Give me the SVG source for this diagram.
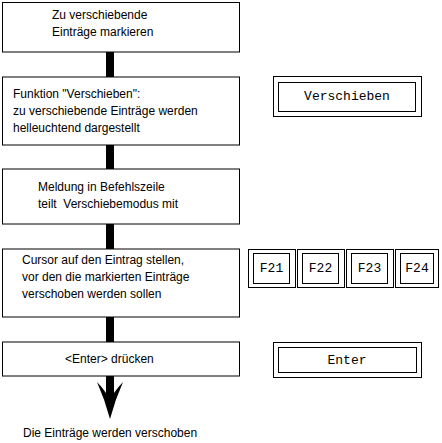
<svg xmlns="http://www.w3.org/2000/svg" width="442" height="443" viewBox="0 0 442 443">
<style>
.box{fill:#fff;stroke:#000;stroke-width:1}
.t{font-family:"Liberation Sans",Arial,sans-serif;font-size:12px;fill:#000}
.m{font-family:"Liberation Mono","Courier New",monospace;font-size:13px;fill:#000;text-anchor:middle}
.bar{fill:#000}
</style>
<rect width="442" height="443" fill="#fff"/>
<g id="connectors">
<rect class="bar" x="106" y="52" width="8" height="25"/>
<rect class="bar" x="106" y="145" width="8" height="24"/>
<rect class="bar" x="106" y="224" width="8" height="25"/>
<rect class="bar" x="106" y="317" width="8" height="25"/>
<path class="bar" d="M106,376 L114,376 L114,393 Q118,387 123,382 Q115,400 110,419 Q105,400 97,382 Q102,387 106,393 Z"/>
</g>
<g id="step1">
<rect class="box" x="2.5" y="2.5" width="237" height="49.5"/>
<text class="t" x="52" y="19">Zu verschiebende</text>
<text class="t" x="52" y="36">Einträge markieren</text>
</g>
<g id="step2">
<rect class="box" x="2.5" y="77" width="237" height="68"/>
<text class="t" x="13" y="98">Funktion "Verschieben":</text>
<text class="t" x="13" y="115">zu verschiebende Einträge werden</text>
<text class="t" x="13" y="132">helleuchtend dargestellt</text>
</g>
<g id="step3">
<rect class="box" x="2.5" y="169" width="237" height="55"/>
<text class="t" x="38" y="191">Meldung in Befehlszeile</text>
<text class="t" x="38" y="208" xml:space="preserve">teilt  Verschiebemodus mit</text>
</g>
<g id="step4">
<rect class="box" x="2.5" y="249" width="237" height="68"/>
<text class="t" x="22" y="264">Cursor auf den Eintrag stellen,</text>
<text class="t" x="22" y="281">vor den die markierten Einträge</text>
<text class="t" x="22" y="298">verschoben werden sollen</text>
</g>
<g id="step5">
<rect class="box" x="2.5" y="342" width="237" height="34"/>
<text class="t" x="65" y="363">&lt;Enter&gt; drücken</text>
</g>
<g id="result">
<text class="t" x="23" y="437">Die Einträge werden verschoben</text>
</g>
<g id="btn-verschieben">
<rect class="box" x="273.5" y="76.5" width="148" height="40"/>
<rect class="box" x="278.5" y="82.5" width="137" height="29"/>
<text class="m" x="347" y="100">Verschieben</text>
</g>
<g id="btn-f21">
<rect class="box" x="248.5" y="249.5" width="47" height="38"/>
<rect class="box" x="253.5" y="253.5" width="36" height="30"/>
<text class="m" x="271.5" y="272">F21</text>
</g>
<g id="btn-f22">
<rect class="box" x="297.5" y="249.5" width="47" height="38"/>
<rect class="box" x="302.5" y="253.5" width="36" height="30"/>
<text class="m" x="320.5" y="272">F22</text>
</g>
<g id="btn-f23">
<rect class="box" x="346.5" y="249.5" width="47" height="38"/>
<rect class="box" x="351.5" y="253.5" width="36" height="30"/>
<text class="m" x="369.5" y="272">F23</text>
</g>
<g id="btn-f24">
<rect class="box" x="395.5" y="249.5" width="43" height="38"/>
<rect class="box" x="400.5" y="253.5" width="33" height="30"/>
<text class="m" x="417" y="272">F24</text>
</g>
<g id="btn-enter">
<rect class="box" x="273.5" y="342.5" width="148" height="35"/>
<rect class="box" x="278.5" y="347.5" width="138" height="25"/>
<text class="m" x="347" y="364">Enter</text>
</g>
</svg>
